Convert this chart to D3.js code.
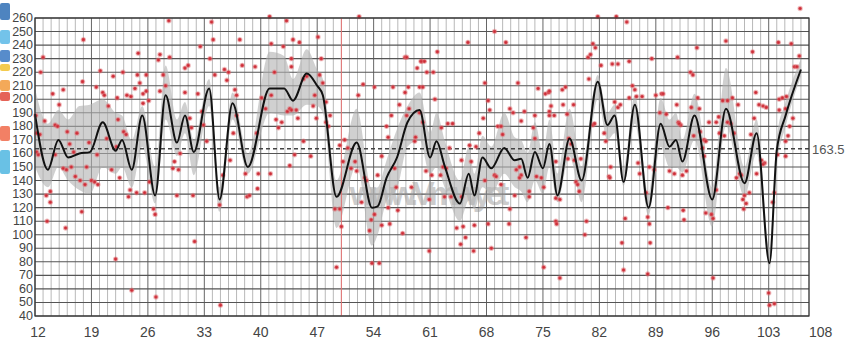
<!DOCTYPE html>
<html>
<head>
<meta charset="utf-8">
<script src="https://cdn.jsdelivr.net/npm/d3@7"></script>
<style>
  html, body { margin: 0; padding: 0; background: #fff; }
  svg { display: block; }
</style>
</head>
<body>
<div id="chart"></div>
<script>
// smoothed trend (local turning points), with the gray band limits
const trendX = [12,13.6,14.9,16.1,17.5,18.8,20.4,22,22.8,24,25.3,26.9,28.2,29.6,30.6,31.7,33.6,34.9,36.5,38.4,41.1,42.9,44,45.7,47,47.7,49.4,51.9,53.8,54.5,55.6,56.9,58.2,59.7,61,61.8,62.8,64.7,65.8,66.5,67.5,68.6,70.2,71.5,72.3,73.1,74,75,75.8,76.8,78.3,79.8,81.8,83,83.9,85,86.4,88.1,89.6,90.7,91.5,92.3,93.8,96,97.7,100,101.5,103.1,104,105.1,107];
const trendY = [189,148,170,157,160,161,183,162,170,148,188,129,203,168,188,161,208,126,197,150,208,208,199,219,210,203,128,168,120,121,142,157,183,192,157,169,151,123,145,129,157,149,164,155,156,142,161,149,167,129,171,140,213,181,188,139,196,120,182,165,170,154,188,126,193,138,175,79,162,188,222];
const bandLow  = [150,135,150,140,133,130,150,145,150,135,165,123,185,158,175,144,195,117,185,145,190,188,188,196,195,190,105,151,92,100,125,134,165,170,145,150,135,110,125,119,135,130,145,135,132,124,140,130,150,124,158,124,200,170,175,136,182,114,165,150,150,146,170,106,180,128,160,74,150,180,217];
const bandHigh = [208,182,192,185,195,196,200,190,188,170,195,150,225,185,198,170,215,135,205,160,235,232,215,237,222,215,140,193,134,135,155,178,195,205,175,190,170,140,165,145,173,165,190,172,170,160,183,160,185,145,193,150,218,190,196,150,203,130,201,185,190,170,204,135,223,150,185,90,172,198,230];

// scattered observations
const dotX = [18.0,13.0,12.7,24.8,27.3,27.5,20.1,17.9,21.7,22.9,24.7,25.8,25.0,24.4,25.4,25.8,27.5,15.5,14.2,19.6,20.4,20.6,22.2,23.4,23.9,21.1,25.4,26.1,15.0,12.1,13.2,14.5,14.8,22.3,23.0,23.3,12.2,12.6,16.0,17.2,16.3,16.8,18.7,19.7,20.9,22.1,21.5,22.5,15.5,15.9,16.5,12.2,12.4,14.5,17.0,17.6,18.2,19.0,19.4,19.8,18.4,13.9,13.4,13.9,23.8,23.6,24.6,25.6,26.2,26.7,26.9,17.8,13.5,15.8,22.0,24.0,27.0,
  28.6,33.9,41.1,43.2,34.1,37.4,41.3,42.8,32.5,28.7,33.7,43.8,37.7,39.3,30.6,31.0,35.5,36.0,34.3,27.9,35.8,28.2,41.7,30.6,32.2,36.8,37.0,41.3,40.1,32.7,32.9,31.2,31.4,37.0,36.6,39.5,40.6,41.9,42.2,43.3,43.6,42.6,33.3,30.0,29.3,29.1,29.8,36.2,35.3,38.1,39.7,41.2,43.6,29.6,31.6,34.9,38.3,38.6,39.6,31.8,35.0,
  52.2,44.0,44.8,47.1,47.5,43.8,57.9,58.1,59.4,59.9,52.7,52.1,54.1,56.4,57.2,58.3,57.9,59.7,45.3,45.7,46.7,47.3,47.7,48.1,43.8,44.4,44.6,46.5,46.9,48.6,48.1,48.4,56.2,58.1,58.4,45.3,44.2,46.2,49.8,50.4,50.8,51.7,50.2,51.2,51.9,52.9,53.1,52.5,54.5,55.0,55.6,55.8,59.2,59.1,56.6,56.8,58.7,49.2,49.8,50.0,53.7,54.1,53.5,55.0,55.8,56.0,57.0,57.6,49.4,53.8,54.7,
  69.0,70.4,65.7,61.9,59.9,60.3,60.6,61.4,67.8,71.9,74.4,75.3,75.7,68.2,68.4,70.9,71.3,72.7,72.3,74.0,75.8,76.0,60.1,61.6,59.7,60.1,62.4,63.2,63.8,67.6,67.1,69.4,69.8,70.0,73.8,74.0,63.4,64.9,65.9,66.1,66.7,60.5,61.2,62.3,62.6,63.0,67.8,69.0,69.2,69.8,71.7,72.1,72.3,72.1,74.2,74.8,75.1,62.8,63.6,60.9,64.9,71.5,73.3,73.3,70.9,64.3,65.1,66.5,68.2,70.8,65.4,64.8,72.9,60.9,66.4,68.6,75.1,
  81.8,84.1,85.4,81.2,81.5,80.6,80.9,82.2,83.6,84.3,85.7,91.7,88.5,80.7,86.1,86.4,75.8,77.4,77.8,78.8,77.5,75.8,76.4,78.0,83.9,84.3,84.6,85.7,86.6,87.3,89.0,89.7,89.9,89.5,90.3,91.6,91.8,92.1,81.2,81.4,82.6,82.8,78.2,78.5,76.6,78.1,78.9,79.7,83.4,86.8,88.2,90.7,91.3,88.8,79.1,79.3,79.5,83.2,83.3,87.0,76.6,77.1,90.5,80.4,76.6,76.7,80.2,85.2,87.8,88.0,88.2,84.8,88.3,85.0,88.0,77.1,
  106.9,97.7,101.0,104.2,105.8,94.1,106.8,93.3,93.6,106.2,106.5,101.4,104.3,104.7,105.2,97.3,97.9,98.5,99.2,94.2,101.8,102.3,102.7,93.4,94.4,104.3,105.1,106.0,91.9,96.8,96.5,97.9,98.3,101.2,105.6,95.6,94.5,93.7,95.0,95.2,105.4,105.1,100.8,96.9,97.5,98.7,94.8,95.0,104.1,105.1,102.1,102.5,102.3,101.5,99.4,99.6,99.0,92.3,92.8,96.5,100.0,100.6,99.8,100.2,99.9,103.7,103.5,95.2,95.9,96.1,92.4,92.5,96.1,103.0,103.1,103.7];
const dotY = [244,231,220,234,229,233,221,213,217,220,218,218,212,208,204,206,206,207,204,209,205,203,201,203,202,195,197,199,196,188,184,181,180,185,176,174,175,174,176,175,167,161,168,159,171,165,148,142,149,148,150,161,159,159,143,140,137,140,139,137,150,132,129,124,133,128,131,131,139,119,115,117,110,105,82,59,54,
  258,257,261,258,244,244,241,239,239,231,230,230,225,224,223,225,222,220,218,218,214,210,220,205,204,207,203,203,201,191,181,186,179,188,175,175,193,185,179,191,193,183,169,160,154,149,148,155,144,145,145,145,151,129,129,122,128,129,134,95,48,
  261,244,242,246,230,224,231,231,223,228,211,203,209,209,196,209,205,209,215,217,203,218,212,198,192,192,186,195,186,188,183,180,188,188,193,169,159,158,166,170,164,154,154,149,147,142,140,124,144,158,180,172,172,169,149,135,135,119,119,106,111,115,103,107,120,108,118,101,76,79,79,
  250,242,242,235,228,228,220,220,212,212,208,204,205,199,192,193,190,191,184,188,188,195,209,200,190,183,179,182,182,186,175,180,180,174,179,171,164,155,166,154,165,147,144,144,150,149,140,144,143,137,148,150,144,142,143,142,135,128,128,126,128,129,128,132,119,105,106,107,108,108,98,93,98,88,88,90,76,
  261,261,257,241,238,231,233,225,226,226,228,231,230,215,210,207,206,207,209,196,196,191,188,189,198,194,196,201,202,202,203,204,204,190,189,196,183,181,181,182,175,169,171,167,154,156,155,156,150,153,150,147,145,148,139,137,132,143,142,145,127,126,120,110,110,108,100,112,131,113,108,94,94,74,71,68,
  267,243,235,242,241,238,232,220,218,224,224,205,200,201,202,199,199,201,196,201,196,195,194,194,193,192,193,186,182,187,183,183,182,186,180,183,176,173,170,169,173,169,174,175,173,175,164,158,159,158,155,153,152,145,145,144,142,144,147,133,129,131,126,123,119,131,124,116,115,112,118,111,68,57,48,49];

const xTicks = [12,19,26,33,40,47,54,61,68,75,82,89,96,103,108];
const yTicks = d3.range(40, 261, 10);
const meanValue = 163.5;
const markerX = 50;
const watermark = "www.Vmwyet";
// clipped icons along the left edge of the screenshot
const edgeIcons = [
  { y0: 3, y1: 20, color: "#2f6fb5" }, { y0: 30, y1: 44, color: "#5ab8e6" },
  { y0: 50, y1: 62, color: "#3a78c2" }, { y0: 64, y1: 71, color: "#f2c230" },
  { y0: 80, y1: 91, color: "#f29a3c" }, { y0: 92, y1: 101, color: "#e0483a" },
  { y0: 126, y1: 141, color: "#f06a4a" }, { y0: 150, y1: 174, color: "#4fb6e0" }
];

const width = 847, height = 345;
const margin = { left: 35, right: 38, top: 18, bottom: 29 };

const svg = d3.select("#chart").append("svg")
  .attr("width", width).attr("height", height)
  .style("font-family", "'Liberation Sans', Arial, sans-serif");

const x = d3.scaleLinear().domain([12, 108]).range([margin.left, width - margin.right]);
const y = d3.scaleLinear().domain([40, 260]).range([height - margin.bottom, margin.top]);

// edge decorations
svg.append("g").selectAll("rect").data(edgeIcons).enter().append("rect")
  .attr("x", 0).attr("width", 10)
  .attr("y", d => d.y0).attr("height", d => d.y1 - d.y0)
  .attr("rx", 2).attr("fill", d => d.color).attr("opacity", 0.85);

const plot = svg.append("g");

// vertical grid: every unit, darker every 7
const minorX = d3.range(12, 109, 1);
plot.append("g").selectAll("line").data(minorX).enter().append("line")
  .attr("x1", d => x(d)).attr("x2", d => x(d))
  .attr("y1", y(40)).attr("y2", y(260))
  .attr("stroke", d => ((d - 12) % 7 === 0 ? "#666" : "#b8b8b8"))
  .attr("stroke-width", 1);

// horizontal grid
plot.append("g").selectAll("line").data(yTicks).enter().append("line")
  .attr("x1", x(12)).attr("x2", x(108))
  .attr("y1", d => y(d)).attr("y2", d => y(d))
  .attr("stroke", "#555").attr("stroke-width", 1.1);

// watermark
plot.append("text")
  .attr("x", x(51)).attr("y", y(122))
  .attr("font-size", 34).attr("font-weight", "bold")
  .attr("fill", "#9a9a9a").attr("opacity", 0.5)
  .attr("textLength", 160)
  .text(watermark);

const trend = trendX.map((d, i) => ({ x: d, y: trendY[i], lo: bandLow[i], hi: bandHigh[i] }));

plot.append("path").datum(trend)
  .attr("d", d3.area().curve(d3.curveMonotoneX)
    .x(d => x(d.x)).y0(d => y(d.lo)).y1(d => y(d.hi)))
  .attr("fill", "#b0b0b0").attr("opacity", 0.6);

// marker line
plot.append("line")
  .attr("x1", x(markerX)).attr("x2", x(markerX))
  .attr("y1", y(40)).attr("y2", y(260))
  .attr("stroke", "#e57373").attr("stroke-width", 1);

// mean line
plot.append("line")
  .attr("x1", x(12)).attr("x2", x(108))
  .attr("y1", y(meanValue)).attr("y2", y(meanValue))
  .attr("stroke", "#444").attr("stroke-width", 1.6)
  .attr("stroke-dasharray", "4,3");

// dots
const dots = dotX.map((d, i) => ({ x: d, y: dotY[i] }));
plot.append("g").selectAll("circle").data(dots).enter().append("circle")
  .attr("cx", d => x(d.x)).attr("cy", d => y(d.y))
  .attr("r", 1.8)
  .attr("fill", "#cc2a35")
  .attr("stroke", "rgba(225,110,115,0.45)").attr("stroke-width", 1.8);

plot.append("path").datum(trend)
  .attr("d", d3.line().curve(d3.curveMonotoneX).x(d => x(d.x)).y(d => y(d.y)))
  .attr("fill", "none").attr("stroke", "#111").attr("stroke-width", 2);

// border
plot.append("rect")
  .attr("x", x(12)).attr("y", y(260))
  .attr("width", x(108) - x(12)).attr("height", y(40) - y(260))
  .attr("fill", "none").attr("stroke", "#333").attr("stroke-width", 1.2);

// y labels, tightly packed like the original
svg.append("g").selectAll("text").data(yTicks).enter().append("text")
  .attr("x", margin.left - 2).attr("y", d => y(d) + 4)
  .attr("text-anchor", "end").attr("font-size", 12.5)
  .attr("fill", "#444")
  .text(d => d);

// x labels
svg.append("g").selectAll("text").data(xTicks).enter().append("text")
  .attr("x", d => x(d)).attr("y", 337)
  .attr("text-anchor", (d, i) => (i === xTicks.length - 1 ? "start" : "middle"))
  .attr("dx", (d, i) => (i === 0 ? 3 : 0))
  .attr("font-size", 14).attr("fill", "#444")
  .text(d => d);

// mean label
svg.append("text")
  .attr("x", x(108) + 3).attr("y", y(meanValue) + 5)
  .attr("font-size", 13).attr("fill", "#555")
  .text(meanValue);
</script>
</body>
</html>
